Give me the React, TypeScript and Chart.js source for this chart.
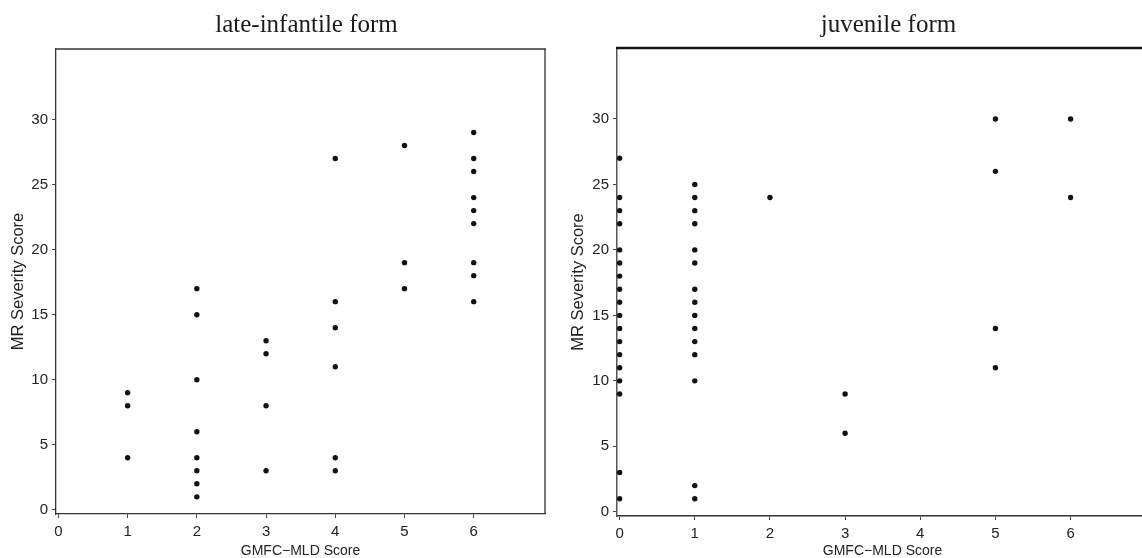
import React, { useEffect, useRef } from "react";
import { Chart, registerables } from "chart.js";

Chart.register(...registerables);

// ---------------- data ----------------
const gmfcLevels = [0, 1, 2, 3, 4, 5, 6];
const xTickValues = [0, 1, 2, 3, 4, 5, 6];
const yTickValues = [0, 5, 10, 15, 20, 25, 30];

// MR severity scores observed at each GMFC-MLD level (index = level)
const lateInfantileMR: number[][] = [
  [],
  [9, 8, 4],
  [17, 15, 10, 6, 4, 3, 2, 1],
  [13, 12, 8, 3],
  [27, 16, 14, 11, 4, 3],
  [28, 19, 17],
  [29, 27, 26, 24, 23, 22, 19, 18, 16],
];

const juvenileMR: number[][] = [
  [27, 24, 23, 22, 20, 19, 18, 17, 16, 15, 14, 13, 12, 11, 10, 9, 3, 1],
  [25, 24, 23, 22, 20, 19, 17, 16, 15, 14, 13, 12, 10, 2, 1],
  [24],
  [9, 6],
  [],
  [30, 26, 14, 11],
  [30, 24],
];

const titles = ["late-infantile form", "juvenile form"];
const xAxisTitle = "GMFC\u2212MLD Score";
const yAxisTitle = "MR Severity Score";

// ---------------- styling ----------------
const SANS = "'Liberation Sans', Arial, Helvetica, sans-serif";
const SERIF = "'Liberation Serif', 'Times New Roman', serif";

const framePlugin = {
  id: "frame",
  afterDraw(chart: any, _args: any, o: any) {
    const { ctx, chartArea } = chart;
    const { left, right, top, bottom } = chartArea;
    ctx.save();
    // top border
    ctx.strokeStyle = o.topColor;
    ctx.lineWidth = o.topWidth;
    ctx.beginPath();
    ctx.moveTo(left - 1, top);
    ctx.lineTo(right + 1, top);
    ctx.stroke();
    // right border
    ctx.strokeStyle = o.rightColor;
    ctx.lineWidth = o.rightWidth;
    ctx.beginPath();
    ctx.moveTo(right, top);
    ctx.lineTo(right, bottom);
    ctx.stroke();
    // title
    ctx.fillStyle = "#1a1a1a";
    ctx.font = `25px ${SERIF}`;
    ctx.textAlign = "center";
    ctx.textBaseline = "alphabetic";
    ctx.fillText(o.title, (left + right) / 2 + 6, o.titleBaseline);
    ctx.restore();
  },
};

function buildPoints(byLevel: number[][]) {
  const pts: { x: number; y: number }[] = [];
  gmfcLevels.forEach((lvl, i) => {
    (byLevel[i] || []).forEach((v) => pts.push({ x: lvl, y: v }));
  });
  return pts;
}

function makeConfig(
  byLevel: number[][],
  p: {
    title: string;
    padTop: number;
    xHeight: number;
    yTitlePad: number;
    axisColor: string;
    axisWidth: number;
    leftColor: string;
    leftWidth: number;
    topColor: string;
    topWidth: number;
    rightColor: string;
    rightWidth: number;
  }
): any {
  return {
    type: "scatter",
    data: {
      datasets: [
        {
          data: buildPoints(byLevel),
          pointRadius: 2.7,
          pointHoverRadius: 2.7,
          pointBackgroundColor: "#111",
          pointBorderWidth: 0,
          showLine: false,
        },
      ],
    },
    plugins: [framePlugin],
    options: {
      animation: false,
      responsive: false,
      devicePixelRatio: 1,
      layout: { padding: { top: p.padTop, right: 26, left: 0, bottom: 0 } },
      plugins: {
        legend: { display: false },
        tooltip: { enabled: false },
        title: { display: false },
        frame: {
          title: p.title,
          titleBaseline: 31.7,
          topColor: p.topColor,
          topWidth: p.topWidth,
          rightColor: p.rightColor,
          rightWidth: p.rightWidth,
        },
      },
      scales: {
        x: {
          type: "linear",
          min: -0.035,
          max: 7.03,
          afterFit: (s: any) => {
            s.height = p.xHeight;
          },
          afterBuildTicks: (s: any) => {
            s.ticks = xTickValues.map((v) => ({ value: v }));
          },
          grid: {
            display: true,
            drawOnChartArea: false,
            drawTicks: true,
            tickLength: 4,
            color: "#444",
            lineWidth: 1,
          },
          border: { display: true, color: p.axisColor, width: p.axisWidth },
          ticks: {
            font: { family: SANS, size: 15 },
            color: "#222",
            padding: 5,
            maxRotation: 0,
            autoSkip: false,
            callback: (v: any) => String(v),
          },
          title: {
            display: true,
            text: xAxisTitle,
            font: { family: SANS, size: 14, lineHeight: 1 },
            color: "#222",
            padding: { top: 0, bottom: 0 },
          },
        },
        y: {
          type: "linear",
          min: -0.32,
          max: 35.42,
          afterFit: (s: any) => {
            s.width = 56;
          },
          afterBuildTicks: (s: any) => {
            s.ticks = yTickValues.map((v) => ({ value: v }));
          },
          grid: {
            display: true,
            drawOnChartArea: false,
            drawTicks: true,
            tickLength: 4,
            color: "#444",
            lineWidth: 1,
          },
          border: { display: true, color: p.leftColor, width: p.leftWidth },
          ticks: {
            font: { family: SANS, size: 15 },
            color: "#222",
            padding: 4,
            autoSkip: false,
            callback: (v: any) => String(v),
          },
          title: {
            display: true,
            text: yAxisTitle,
            font: { family: SANS, size: 16.5, lineHeight: 1 },
            color: "#222",
            padding: { top: p.yTitlePad, bottom: 0 },
          },
        },
      },
    },
  };
}

export default function App() {
  const leftRef = useRef<HTMLCanvasElement | null>(null);
  const rightRef = useRef<HTMLCanvasElement | null>(null);

  useEffect(() => {
    const charts: Chart[] = [];
    if (leftRef.current) {
      charts.push(
        new Chart(
          leftRef.current,
          makeConfig(lateInfantileMR, {
            title: titles[0],
            padTop: 49,
            xHeight: 44,
            yTitlePad: 10.5,
            axisColor: "#333",
            axisWidth: 1.3,
            leftColor: "#333",
            leftWidth: 1.3,
            topColor: "#333",
            topWidth: 1.3,
            rightColor: "#333",
            rightWidth: 1.3,
          })
        )
      );
    }
    if (rightRef.current) {
      charts.push(
        new Chart(
          rightRef.current,
          makeConfig(juvenileMR, {
            title: titles[1],
            padTop: 48,
            xHeight: 42,
            yTitlePad: 9,
            axisColor: "#333",
            axisWidth: 1.5,
            leftColor: "#555",
            leftWidth: 1.5,
            topColor: "#111",
            topWidth: 2.6,
            rightColor: "#333",
            rightWidth: 1.3,
          })
        )
      );
    }
    return () => charts.forEach((c) => c.destroy());
  }, []);

  return (
    <div
      style={{
        position: "fixed",
        left: 0,
        top: 0,
        width: 1142,
        height: 558,
        overflow: "hidden",
        background: "#fff",
      }}
    >
      <canvas
        ref={leftRef}
        width={571}
        height={558}
        style={{ position: "absolute", left: 0, top: 0, width: 571, height: 558 }}
      />
      <canvas
        ref={rightRef}
        width={613}
        height={558}
        style={{ position: "absolute", left: 561, top: 0, width: 613, height: 558 }}
      />
    </div>
  );
}
